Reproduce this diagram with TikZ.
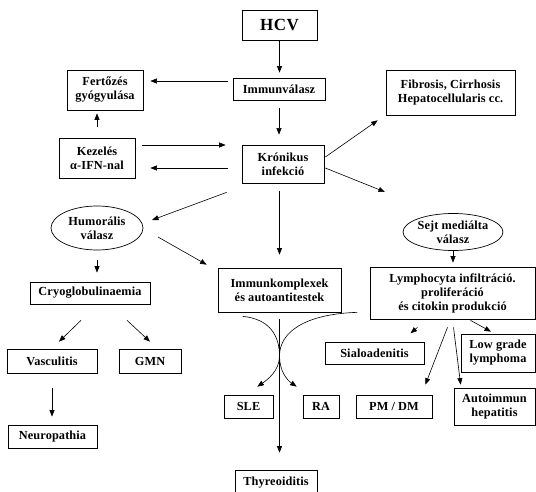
\documentclass[tikz,border=0pt]{standalone}
\usepackage{fontspec}
\setmainfont{Liberation Serif}
\newfontfamily\lbl[LetterSpace=1]{Liberation Serif}
\newfontfamily\lblbig[LetterSpace=3]{Liberation Serif}
\usetikzlibrary{arrows.meta,shapes.geometric}
\begin{document}
\begin{tikzpicture}[x=1pt,y=-1pt,
  box/.style={draw, line width=0.7pt, align=center, inner sep=0pt,
    font=\lbl\bfseries\fontsize{12.3}{14}\selectfont},
  oval/.style={draw, ellipse, line width=0.7pt, align=center, inner sep=0pt,
    font=\lbl\bfseries\fontsize{12.3}{14}\selectfont},
  arr/.style={draw, line width=0.6pt, -{Triangle[length=6.5pt,width=5pt]}},
  ]
\useasboundingbox[fill=white] (0,0) rectangle (536,492);

\node[box, minimum width=75pt, minimum height=30pt,
  font=\lblbig\bfseries\fontsize{17}{18}\selectfont] (hcv) at (279.5,25) {HCV};
\node[box, minimum width=92pt, minimum height=22pt] (immun) at (279,89) {Immunválasz};
\node[box, minimum width=76pt, minimum height=40pt] (fert) at (105,90) {Fertőzés\\gyógyulása};
\node[box, minimum width=76pt, minimum height=40pt] (kez) at (97,158) {Kezelés\\α-IFN-nal};
\node[box, minimum width=82pt, minimum height=38pt] (kron) at (283,164) {Krónikus\\infekció};
\node[box, minimum width=129pt, minimum height=45pt] (fib) at (450.5,92.5) {Fibrosis, Cirrhosis\\Hepatocellularis cc.};
\node[oval, minimum width=90pt, minimum height=37pt] (sejt) at (453,232) {Sejt mediálta\\válasz};
\node[oval, minimum width=92pt, minimum height=44pt] (humor) at (97,228) {Humorális\\válasz};
\node[box, minimum width=165pt, minimum height=52pt] (lymph) at (452.5,293) {Lymphocyta infiltráció.\\proliferáció\\és citokin produkció};
\node[box, minimum width=123pt, minimum height=44pt] (immk) at (279.5,290) {Immunkomplexek\\és autoantitestek};
\node[box, minimum width=120pt, minimum height=22pt] (cryo) at (90,293) {Cryoglobulinaemia};
\node[box, minimum width=90pt, minimum height=24pt] (vasc) at (52,361) {Vasculitis};
\node[box, minimum width=62pt, minimum height=24pt] (gmn) at (150,361) {GMN};
\node[box, minimum width=89pt, minimum height=23pt] (neuro) at (52.5,436.5) {Neuropathia};
\node[box, minimum width=49pt, minimum height=23pt] (sle) at (248.5,406.5) {SLE};
\node[box, minimum width=36pt, minimum height=23pt] (ra) at (321,406.5) {RA};
\node[box, minimum width=76pt, minimum height=23pt] (pmdm) at (394,406.5) {PM / DM};
\node[box, minimum width=99pt, minimum height=22pt] (sial) at (374.5,353) {Sialoadenitis};
\node[box, minimum width=74pt, minimum height=38pt] (low) at (498,353) {Low grade\\lymphoma};
\node[box, minimum width=81pt, minimum height=37pt] (auto) at (494.5,406.5) {Autoimmun\\hepatitis};
\node[box, minimum width=82pt, minimum height=25pt] (thyr) at (276,482.5) {Thyreoiditis};

% top chain
\draw[arr, shorten >=5pt] (hcv.south) -- (hcv.south |- immun.north);
\draw[arr, shorten <=5pt, shorten >=7pt] ([yshift=8pt]immun.west) -- ([yshift=8pt]immun.west -| fert.east);
\draw[arr, shorten <=8pt, shorten >=10pt] (immun.south) -- (immun.south |- kron.north);
\draw[arr, shorten <=11pt, shorten >=3pt] (kez.north) -- (kez.north |- fert.south);
\draw[arr, shorten <=7pt, shorten >=16pt] ([yshift=13pt]kez.east) -- ([yshift=13pt]kez.east -| kron.west);
\draw[arr, shorten <=14pt, shorten >=15pt] ([yshift=-4pt]kron.west) -- ([yshift=-4pt]kron.west -| kez.east);
\draw[arr] ([xshift=1pt,yshift=7pt]kron.east) -- ([xshift=-8pt,yshift=-5pt]fib.south west);
\draw[arr] ([xshift=1pt,yshift=-4pt]kron.east) -- ([xshift=-68pt,yshift=40pt]sejt.center);
\draw[arr] ([xshift=-15pt,yshift=-9pt]kron.south west) -- ([xshift=55pt,yshift=8pt]humor.center);
\draw[arr] ([xshift=61pt,yshift=-9pt]humor.center) -- ([xshift=-11pt,yshift=3pt]immk.north west);
\draw[arr, shorten <=8pt, shorten >=13pt] (immk.north |- kron.south) -- (immk.north);
\draw[arr, shorten <=10pt, shorten >=9pt] (humor.south) -- (humor.south |- cryo.north);
\draw[arr, shorten >=4pt] (sejt.south) -- (sejt.south |- lymph.north);

% left branch
\draw[arr] ([xshift=-9pt,yshift=-16pt]cryo.south) -- ([xshift=7pt,yshift=7pt]vasc.north);
\draw[arr] ([xshift=37pt,yshift=-16pt]cryo.south) -- ([yshift=7pt]gmn.north);
\draw[arr, shorten <=15pt, shorten >=8pt] (vasc.south) -- (vasc.south |- neuro.north);

% immunkomplex branch
\draw[arr, shorten <=7pt, shorten >=17pt] (immk.south) -- (immk.south |- thyr.north);
\coordinate (c1s) at ([xshift=25pt,yshift=-4pt]immk.south west);
\coordinate (c1e) at ([xshift=-6pt,yshift=8pt]ra.north west);
\coordinate (c2s) at ([xshift=16pt]immk.south east);
\coordinate (c2e) at ([xshift=-16pt,yshift=8pt]sle.north east);
\draw[arr] (c1s) .. controls (270,319) and (279.5,336) .. (279.5,356)
  .. controls (279.5,371) and (287,380) .. (c1e);
\draw[arr] (c2s) .. controls (305,314) and (279.5,332) .. (279.5,356)
  .. controls (279.5,371) and (267,380) .. (c2e);

% lymphocyta branch
\draw[arr] ([xshift=-35pt,yshift=-8pt]lymph.south) -- ([xshift=-42pt,yshift=-14pt]lymph.south);
\draw[arr] ([xshift=-5pt,yshift=-8pt]lymph.south) -- ([xshift=-7pt,yshift=10pt]pmdm.north east);
\draw[arr] ([xshift=1pt,yshift=-8pt]lymph.south) -- ([xshift=7pt,yshift=3pt]auto.north west);
\draw[arr] ([xshift=18pt,yshift=-1pt]lymph.south) -- ([xshift=-7pt,yshift=2pt]low.north);
\end{tikzpicture}
\end{document}
